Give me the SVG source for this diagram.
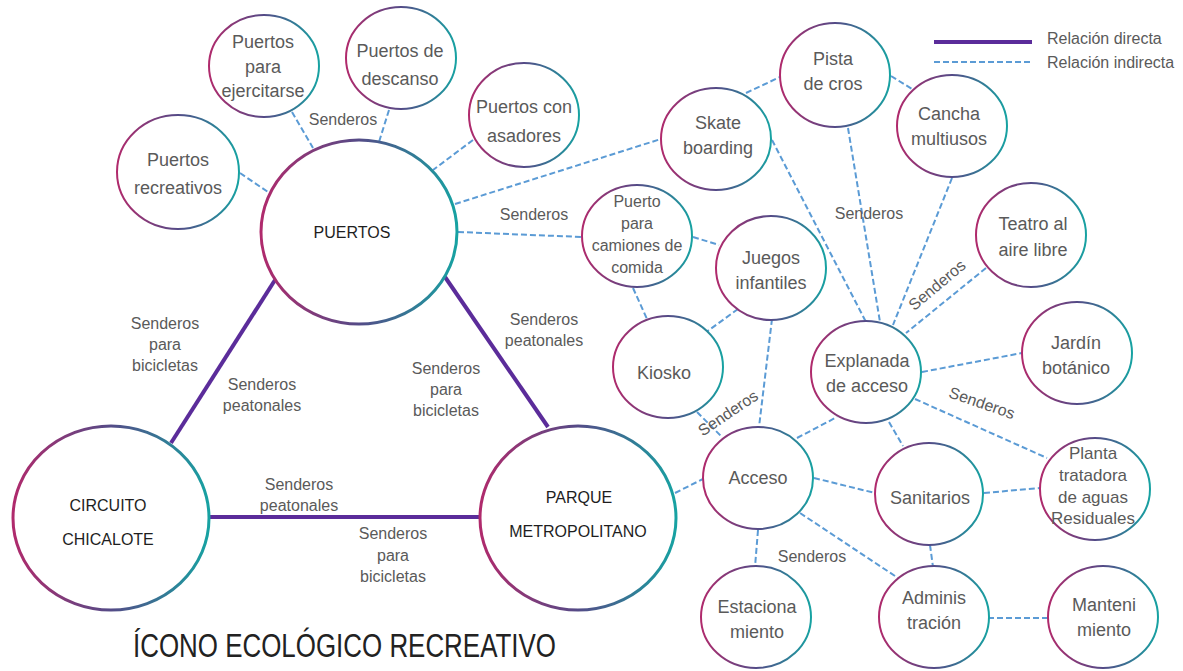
<svg xmlns="http://www.w3.org/2000/svg" width="1183" height="671" viewBox="0 0 1183 671">
<defs>
<linearGradient id="ring" x1="0" y1="0" x2="1" y2="0">
<stop offset="0" stop-color="#b02a6c"/>
<stop offset="0.5" stop-color="#544b87"/>
<stop offset="1" stop-color="#17a2a2"/>
</linearGradient>
<style>
.big{fill:#fff;stroke:url(#ring);stroke-width:3}
.sm{fill:#fff;stroke:url(#ring);stroke-width:2}
.t{font-family:"Liberation Sans",Arial,sans-serif;font-size:18px;fill:#5a5a5a;text-anchor:middle;dominant-baseline:central}
.t16{font-size:16px}
.t17{font-size:17px}
.bt{font-family:"Liberation Sans",Arial,sans-serif;font-size:16px;fill:#1e1e1e;text-anchor:middle;dominant-baseline:central}
.lb{font-family:"Liberation Sans",Arial,sans-serif;font-size:16px;fill:#5a5a5a;text-anchor:middle;dominant-baseline:central}
.dir{stroke:#5b2c9a;stroke-width:4;fill:none}
.ind{stroke:#5b9bd5;stroke-width:2;stroke-dasharray:6 3;fill:none}
</style>
</defs>
<rect width="1183" height="671" fill="#fff"/>

<g id="legend">
<line class="dir" x1="934" y1="42" x2="1032" y2="42"/>
<line class="ind" x1="934" y1="62" x2="1032" y2="62"/>
<text class="lb" x="1047" y="38" style="text-anchor:start">Relación directa</text>
<text class="lb" x="1047" y="62" style="text-anchor:start">Relación indirecta</text>
</g>

<g id="connectors">
<line class="dir" x1="275" y1="280" x2="171" y2="443"/>
<line class="dir" x1="445" y1="277" x2="548" y2="427"/>
<line class="dir" x1="210" y1="517" x2="480" y2="517"/>
<line class="ind" x1="240" y1="173" x2="268" y2="192"/>
<line class="ind" x1="292" y1="112" x2="313" y2="148"/>
<line class="ind" x1="389" y1="110" x2="379" y2="142"/>
<line class="ind" x1="473" y1="140" x2="433" y2="170"/>
<line class="ind" x1="455" y1="204" x2="661" y2="139"/>
<line class="ind" x1="458" y1="232" x2="582" y2="237"/>
<line class="ind" x1="746" y1="93" x2="780" y2="77"/>
<line class="ind" x1="891" y1="76" x2="912" y2="89"/>
<line class="ind" x1="772" y1="140" x2="866" y2="322"/>
<line class="ind" x1="848" y1="128" x2="880" y2="322"/>
<line class="ind" x1="952" y1="178" x2="893" y2="325"/>
<line class="ind" x1="986" y1="268" x2="906" y2="333"/>
<line class="ind" x1="693" y1="237" x2="719" y2="245"/>
<line class="ind" x1="633" y1="288" x2="647" y2="319"/>
<line class="ind" x1="738" y1="309" x2="705" y2="333"/>
<line class="ind" x1="772" y1="319" x2="759" y2="427"/>
<line class="ind" x1="697" y1="412" x2="722" y2="437"/>
<line class="ind" x1="797" y1="438" x2="837" y2="417"/>
<line class="ind" x1="675" y1="493" x2="703" y2="479"/>
<line class="ind" x1="814" y1="478" x2="875" y2="493"/>
<line class="ind" x1="758" y1="530" x2="755" y2="567"/>
<line class="ind" x1="800" y1="513" x2="898" y2="578"/>
<line class="ind" x1="889" y1="422" x2="903" y2="446"/>
<line class="ind" x1="922" y1="372" x2="1022" y2="353"/>
<line class="ind" x1="915" y1="399" x2="1047" y2="458"/>
<line class="ind" x1="984" y1="493" x2="1040" y2="488"/>
<line class="ind" x1="930" y1="545" x2="933" y2="567"/>
<line class="ind" x1="988" y1="618" x2="1048" y2="618"/>
</g>

<g id="connector-labels">
<text class="lb" x="165" y="323">Senderos</text>
<text class="lb" x="165" y="344">para</text>
<text class="lb" x="165" y="365">bicicletas</text>
<text class="lb" x="262" y="384">Senderos</text>
<text class="lb" x="262" y="405">peatonales</text>
<text class="lb" x="544" y="319">Senderos</text>
<text class="lb" x="544" y="340">peatonales</text>
<text class="lb" x="446" y="368">Senderos</text>
<text class="lb" x="446" y="389">para</text>
<text class="lb" x="446" y="410">bicicletas</text>
<text class="lb" x="299" y="484">Senderos</text>
<text class="lb" x="299" y="505">peatonales</text>
<text class="lb" x="393" y="533">Senderos</text>
<text class="lb" x="393" y="555">para</text>
<text class="lb" x="393" y="576">bicicletas</text>
<text class="lb" x="343" y="119">Senderos</text>
<text class="lb" x="534" y="214">Senderos</text>
<text class="lb" x="869" y="213">Senderos</text>
<text class="lb" transform="translate(937 285) rotate(-40)">Senderos</text>
<text class="lb" transform="translate(728 413) rotate(-34)">Senderos</text>
<text class="lb" transform="translate(982 403) rotate(19)">Senderos</text>
<text class="lb" x="812" y="556">Senderos</text>
</g>

<g id="node-puertos"><ellipse class="big" cx="359" cy="232" rx="98" ry="92"/><text class="bt" x="352" y="232">PUERTOS</text></g>
<g id="node-circuito"><ellipse class="big" cx="111" cy="518" rx="98" ry="92"/><text class="bt" x="108" y="505">CIRCUITO</text><text class="bt" x="108" y="539">CHICALOTE</text></g>
<g id="node-parque"><ellipse class="big" cx="578" cy="518" rx="98" ry="92"/><text class="bt" x="579" y="497">PARQUE</text><text class="bt" x="578" y="531">METROPOLITANO</text></g>

<g id="node-ejercitarse"><ellipse class="sm" cx="264" cy="66" rx="55" ry="51"/><text class="t" x="263" y="42">Puertos</text><text class="t" x="263" y="67">para</text><text class="t" x="263" y="91">ejercitarse</text></g>
<g id="node-descanso"><ellipse class="sm" cx="401" cy="58" rx="55" ry="51"/><text class="t" x="400" y="51">Puertos de</text><text class="t" x="400" y="79">descanso</text></g>
<g id="node-asadores"><ellipse class="sm" cx="524" cy="115" rx="55" ry="52"/><text class="t" x="524" y="107">Puertos con</text><text class="t" x="524" y="136">asadores</text></g>
<g id="node-recreativos"><ellipse class="sm" cx="178" cy="172" rx="61" ry="57"/><text class="t" x="178" y="160">Puertos</text><text class="t" x="178" y="188">recreativos</text></g>
<g id="node-skate"><ellipse class="sm" cx="716" cy="139" rx="55" ry="51"/><text class="t" x="718" y="123">Skate</text><text class="t" x="718" y="148">boarding</text></g>
<g id="node-pista"><ellipse class="sm" cx="835" cy="75" rx="55" ry="52"/><text class="t" x="833" y="59">Pista</text><text class="t" x="833" y="84">de cros</text></g>
<g id="node-cancha"><ellipse class="sm" cx="952" cy="126" rx="55" ry="51"/><text class="t" x="949" y="114">Cancha</text><text class="t" x="949" y="139">multiusos</text></g>
<g id="node-camiones"><ellipse class="sm" cx="637" cy="236" rx="55" ry="51"/><text class="t t16" x="637" y="201">Puerto</text><text class="t t16" x="637" y="223">para</text><text class="t t16" x="637" y="245">camiones de</text><text class="t t16" x="637" y="267">comida</text></g>
<g id="node-juegos"><ellipse class="sm" cx="771" cy="268" rx="55" ry="52"/><text class="t" x="771" y="258">Juegos</text><text class="t" x="771" y="283">infantiles</text></g>
<g id="node-kiosko"><ellipse class="sm" cx="668" cy="367" rx="55" ry="51"/><text class="t" x="664" y="373">Kiosko</text></g>
<g id="node-teatro"><ellipse class="sm" cx="1031" cy="235" rx="55" ry="52"/><text class="t" x="1033" y="224">Teatro al</text><text class="t" x="1033" y="250">aire libre</text></g>
<g id="node-explanada"><ellipse class="sm" cx="866" cy="372" rx="55" ry="51"/><text class="t" x="867" y="361">Explanada</text><text class="t" x="867" y="386">de acceso</text></g>
<g id="node-jardin"><ellipse class="sm" cx="1077" cy="353" rx="55" ry="51"/><text class="t" x="1076" y="343">Jardín</text><text class="t" x="1076" y="368">botánico</text></g>
<g id="node-acceso"><ellipse class="sm" cx="758" cy="478" rx="55" ry="51"/><text class="t" x="758" y="478">Acceso</text></g>
<g id="node-sanitarios"><ellipse class="sm" cx="929" cy="494" rx="54" ry="51"/><text class="t" x="930" y="498">Sanitarios</text></g>
<g id="node-planta"><ellipse class="sm" cx="1095" cy="489" rx="55" ry="51"/><text class="t t17" x="1093" y="453">Planta</text><text class="t t17" x="1093" y="475">tratadora</text><text class="t t17" x="1093" y="497">de aguas</text><text class="t t17" x="1093" y="518">Residuales</text></g>
<g id="node-estaciona"><ellipse class="sm" cx="756" cy="617" rx="55" ry="51"/><text class="t" x="757" y="607">Estaciona</text><text class="t" x="757" y="632">miento</text></g>
<g id="node-adminis"><ellipse class="sm" cx="934" cy="617" rx="55" ry="51"/><text class="t" x="934" y="598">Adminis</text><text class="t" x="934" y="623">tración</text></g>
<g id="node-manteni"><ellipse class="sm" cx="1103" cy="617" rx="55" ry="51"/><text class="t" x="1104" y="605">Manteni</text><text class="t" x="1104" y="630">miento</text></g>

<text id="title" x="133" y="657" textLength="423" lengthAdjust="spacingAndGlyphs" style="font-family:'Liberation Sans',Arial,sans-serif;font-size:33px;fill:#222">ÍCONO ECOLÓGICO RECREATIVO</text>
</svg>
